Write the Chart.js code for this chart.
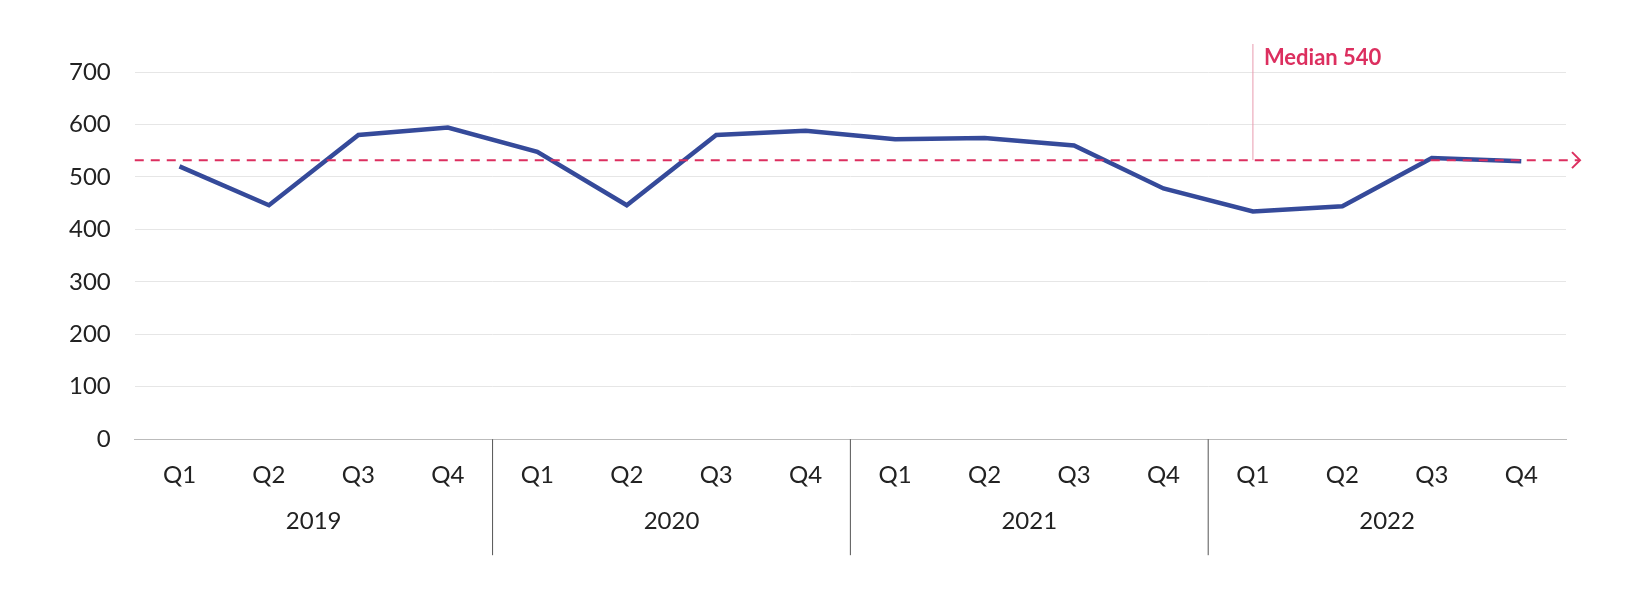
<!DOCTYPE html>
<html><head><meta charset="utf-8">
<script src="https://cdn.jsdelivr.net/npm/chart.js@4"></script>
<style>html,body{margin:0;background:#fff}#wrap{width:1651px;height:602px}</style>
</head><body><div id="wrap"><canvas id="c"></canvas></div>
<script>
const quarters = ['Q1','Q2','Q3','Q4','Q1','Q2','Q3','Q4','Q1','Q2','Q3','Q4','Q1','Q2','Q3','Q4'];
const years = ['2019','2020','2021','2022'];
const values = [520,446,580,594,548,446,580,588,572,574,560,478,434,444,536,530];
const medianValue = 532;
const medianLabel = 'Median 540';
const yTicks = [0,100,200,300,400,500,600,700];

const pink = '#dc2f5f';
const extras = {
  id:'extras',
  afterDraw(chart){
    const ctx = chart.ctx, x = chart.scales.x, y = chart.scales.y, a = chart.chartArea;
    ctx.save();
    ctx.strokeStyle = '#555'; ctx.lineWidth = 1;
    ctx.fillStyle = '#222'; ctx.font = '24px Lato'; ctx.textAlign = 'center'; ctx.textBaseline = 'middle';
    years.forEach((yr,i)=>{
      const x0 = x.getPixelForValue(i*4) , x3 = x.getPixelForValue(i*4+3);
      ctx.fillText(yr,(x0+x3)/2,a.bottom+82);
      if(i>0){
        const sx = (x.getPixelForValue(i*4-1)+x0)/2;
        ctx.beginPath(); ctx.moveTo(sx,a.bottom); ctx.lineTo(sx,a.bottom+116); ctx.stroke();
      }
    });
    const my = y.getPixelForValue(medianValue);
    const right = a.right+14;
    ctx.strokeStyle = pink; ctx.lineWidth = 2; ctx.setLineDash([9,7]);
    ctx.beginPath(); ctx.moveTo(a.left,my); ctx.lineTo(right,my); ctx.stroke();
    ctx.setLineDash([]);
    ctx.beginPath(); ctx.moveTo(right-8,my-8); ctx.lineTo(right,my); ctx.lineTo(right-8,my+8); ctx.stroke();
    const lx = x.getPixelForValue(12);
    ctx.lineWidth = 1; ctx.strokeStyle = '#e89aae';
    ctx.beginPath(); ctx.moveTo(lx,44); ctx.lineTo(lx,my); ctx.stroke();
    ctx.fillStyle = pink; ctx.font = 'bold 22px Lato'; ctx.textAlign = 'left';
    ctx.fillText(medianLabel,lx+11,58);
    ctx.restore();
  }
};

new Chart(document.getElementById('c'),{
  type:'line',
  data:{labels:quarters,datasets:[{data:values,borderColor:'#354a9a',borderWidth:4.5,pointRadius:0,tension:0}]},
  options:{
    responsive:true, maintainAspectRatio:false, animation:false,
    layout:{padding:{left:45,right:85,top:72,bottom:98}},
    plugins:{legend:{display:false},tooltip:{enabled:false}},
    scales:{
      x:{offset:true,grid:{display:false},border:{color:'#bbb'},ticks:{color:'#222',font:{family:'Lato',size:24},padding:14}},
      y:{min:0,max:700,afterBuildTicks(s){s.ticks=yTicks.map(v=>({value:v}));},
         grid:{color:'#e6e6e6',drawTicks:false},border:{display:false},
         ticks:{color:'#222',font:{family:'Lato',size:24},padding:24}}
    }
  },
  plugins:[extras]
});
</script></body></html>
